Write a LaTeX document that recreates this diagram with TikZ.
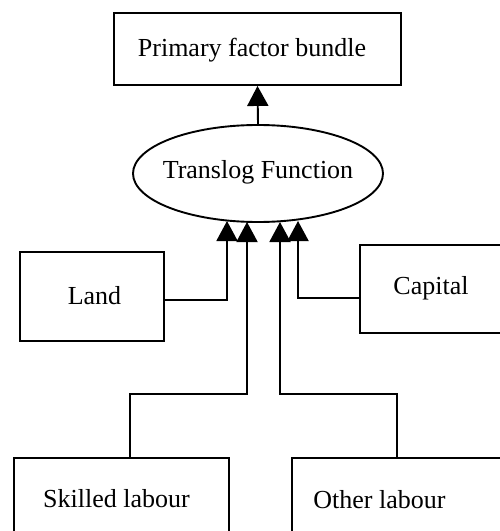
\documentclass[tikz,border=0pt]{standalone}
\usepackage{fontspec}
\setmainfont{Liberation Serif}
\usetikzlibrary{shapes.geometric,arrows.meta}
\begin{document}
\begin{tikzpicture}[x={(1bp,0)},y={(0,-1bp)},
  box/.style={draw,line width=1.9bp,rectangle,inner sep=0pt},
  lbl/.style={inner sep=0pt,font=\fontsize{26bp}{30bp}\selectfont},
  conn/.style={line width=1.9bp},
  arr/.style={line width=1.9bp,-{Triangle[length=20bp,width=21bp]}}]
\useasboundingbox (0,0) rectangle (500,531);
\clip (0,0) rectangle (500,531);
% boxes
\node[box,minimum width=287bp,minimum height=72bp] (pf) at (257.5,49) {};
\node[box,ellipse,minimum width=250bp,minimum height=97bp] (tf) at (258,173.5) {};
\node[box,minimum width=144bp,minimum height=89bp] (land) at (92,296.5) {};
\node[box,minimum width=160bp,minimum height=88bp] (cap) at (440,289) {};
\node[box,minimum width=215bp,minimum height=110bp] (sk) at (121.5,513) {};
\node[box,minimum width=230bp,minimum height=110bp] (ol) at (407,513) {};
% labels
\node[lbl] (pft) at (252,50) {Primary factor bundle};
\node[lbl] (tft) at (258,172) {Translog Function};
\node[lbl] (landt) at (94.5,296) {Land};
\node[lbl] (capt) at (431,288) {Capital};
\node[lbl] (skt) at (116.5,499) {Skilled labour};
\node[lbl] (olt) at (379.5,500) {Other labour};
% connector end points
\coordinate (t1) at (227,221);
\coordinate (t2) at (247,222);
\coordinate (t3) at (280,222);
\coordinate (t4) at (298,221);
% connectors
\draw[arr] (tf.north) -- (pf.south);
\draw[arr] (land.east |- 0,300) -| (t1);
\draw[arr] (sk.north -| 130,0) |- (247,394) -- (t2);
\draw[arr] (ol.north -| 397,0) |- (280,394) -- (t3);
\draw[arr] (cap.west |- 0,298) -| (t4);
\end{tikzpicture}
\end{document}
